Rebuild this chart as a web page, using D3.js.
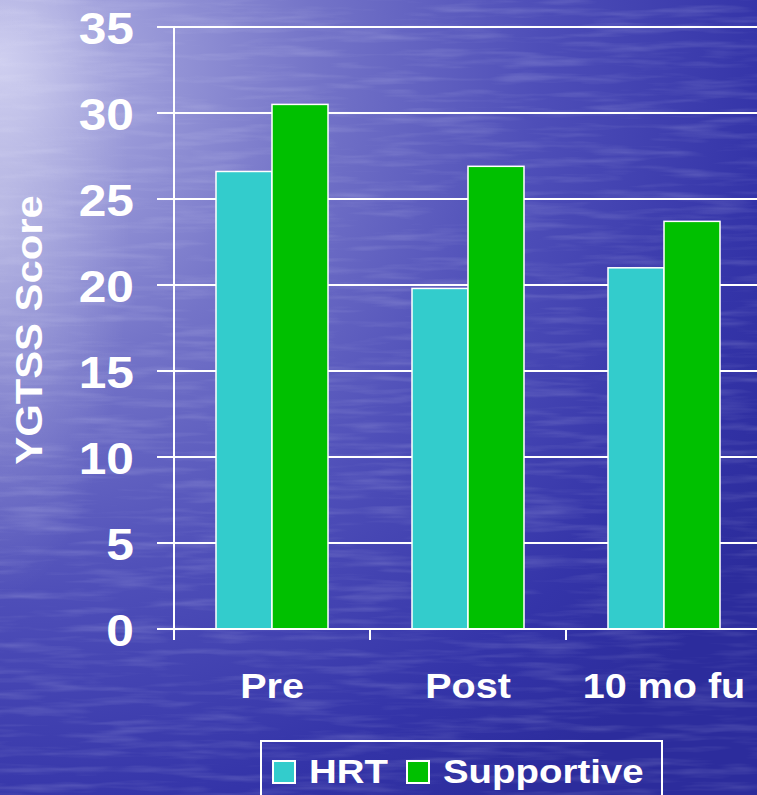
<!DOCTYPE html>
<html>
<head>
<meta charset="utf-8">
<script src="https://cdn.jsdelivr.net/npm/d3@7"></script>
<style>
  html, body { margin: 0; padding: 0; background: #3a3aa8; overflow: hidden; }
  svg { display: block; }
  text { font-family: "Liberation Sans", Arial, sans-serif; font-weight: bold; fill: #ffffff; }
</style>
</head>
<body>
<svg id="chart" width="757" height="795"></svg>
<script>
// YGTSS scores by assessment point
const categories = ["Pre", "Post", "10 mo fu"];
const series = ["HRT", "Supportive"];
const hrtValues = [26.6, 19.8, 21.0];
const supportiveValues = [30.5, 26.9, 23.7];
const yTicks = [0, 5, 10, 15, 20, 25, 30, 35];
const colors = { HRT: "#33cccc", Supportive: "#00c000" };

const W = 757, H = 795;
const svg = d3.select("#chart");
const defs = svg.append("defs");

// water-like backdrop: light at top-left, deep blue toward bottom-right
const bg = defs.append("radialGradient")
  .attr("id", "bgGrad").attr("gradientUnits", "userSpaceOnUse")
  .attr("cx", 0).attr("cy", 60).attr("r", 900);
[[0, "#c4c4ec"], [0.12, "#a2a2dc"], [0.35, "#7474c8"], [0.6, "#4e4eb8"], [0.85, "#3434a8"], [1, "#2c2c9c"]]
  .forEach(([o, c]) => bg.append("stop").attr("offset", o).attr("stop-color", c));

// soft pale band along the left edge
const edge = defs.append("radialGradient")
  .attr("id", "edgeGlow").attr("gradientUnits", "userSpaceOnUse")
  .attr("cx", 0).attr("cy", 0).attr("r", 1)
  .attr("gradientTransform", "translate(0,220) scale(130,380)");
edge.append("stop").attr("offset", 0).attr("stop-color", "#ffffff").attr("stop-opacity", 0.32);
edge.append("stop").attr("offset", 1).attr("stop-color", "#ffffff").attr("stop-opacity", 0);

const ripple = defs.append("filter").attr("id", "ripple")
  .attr("x", 0).attr("y", 0).attr("width", 1).attr("height", 1);
ripple.append("feTurbulence").attr("type", "fractalNoise")
  .attr("baseFrequency", "0.012 0.12").attr("numOctaves", 3).attr("seed", 7).attr("result", "n");
ripple.append("feColorMatrix").attr("in", "n").attr("type", "matrix")
  .attr("values", "0 0 0 0 0.85  0 0 0 0 0.85  0 0 0 0 1  0 0 0 2.2 -1.0");

svg.append("rect").attr("width", W).attr("height", H).attr("fill", "url(#bgGrad)");
svg.append("rect").attr("width", W).attr("height", H).attr("fill", "url(#edgeGlow)");
svg.append("rect").attr("width", W).attr("height", H).attr("filter", "url(#ripple)").attr("opacity", 0.16);

// scales
const plotLeft = 174, bandW = 196;
const x = d3.scaleBand().domain(categories).range([plotLeft, plotLeft + bandW * categories.length]);
const xInner = d3.scaleBand().domain(series).range([42, 154]);
const y = d3.scaleLinear().domain([0, 35]).range([629, 27]);

const stretch = 1.13;

// horizontal gridlines
svg.append("g").selectAll("line").data(yTicks).join("line")
  .attr("x1", 157).attr("x2", W)
  .attr("y1", d => y(d)).attr("y2", d => y(d))
  .attr("stroke", "#ffffff").attr("stroke-width", 2);

// y axis line and category ticks
svg.append("line").attr("x1", plotLeft).attr("x2", plotLeft)
  .attr("y1", y(35)).attr("y2", 640).attr("stroke", "#fff").attr("stroke-width", 2);
svg.append("g").selectAll("line").data(categories.slice(1).concat(["end"])).join("line")
  .attr("x1", (d, i) => plotLeft + bandW * (i + 1)).attr("x2", (d, i) => plotLeft + bandW * (i + 1))
  .attr("y1", y(0)).attr("y2", 640).attr("stroke", "#fff").attr("stroke-width", 2);

// bars
const rows = categories.map((c, i) => ({ cat: c, HRT: hrtValues[i], Supportive: supportiveValues[i] }));
const groups = svg.append("g").selectAll("g").data(rows).join("g")
  .attr("transform", d => `translate(${x(d.cat)},0)`);
groups.selectAll("rect").data(d => series.map(s => ({ s, v: d[s] }))).join("rect")
  .attr("x", d => xInner(d.s)).attr("width", xInner.bandwidth())
  .attr("y", d => y(d.v)).attr("height", d => y(0) - y(d.v))
  .attr("fill", d => colors[d.s]).attr("stroke", "#ffffff").attr("stroke-width", 1.5);

// baseline
svg.append("line").attr("x1", 157).attr("x2", W).attr("y1", y(0)).attr("y2", y(0))
  .attr("stroke", "#fff").attr("stroke-width", 2);

// tick labels
svg.append("g").selectAll("text").data(yTicks).join("text")
  .attr("transform", d => `translate(134,${y(d) + 2}) scale(${stretch},1)`)
  .attr("text-anchor", "end").attr("dominant-baseline", "central")
  .attr("font-size", 44).text(d => d);

// category labels
svg.append("g").selectAll("text").data(categories).join("text")
  .attr("transform", d => `translate(${x(d) + x.bandwidth() / 2},698) scale(${stretch},1)`)
  .attr("text-anchor", "middle").attr("font-size", 35).text(d => d);

// y axis title
svg.append("text")
  .attr("transform", `translate(42,330) rotate(-90) scale(${stretch},1)`)
  .attr("text-anchor", "middle").attr("font-size", 37).text("YGTSS Score");

// legend
const legend = svg.append("g");
legend.append("rect").attr("x", 261).attr("y", 741).attr("width", 401).attr("height", 80)
  .attr("fill", "none").attr("stroke", "#fff").attr("stroke-width", 2);
const legendItems = [{ s: "HRT", sx: 273, tx: 309 }, { s: "Supportive", sx: 407, tx: 443 }];
legend.selectAll("rect.sw").data(legendItems).join("rect").attr("class", "sw")
  .attr("x", d => d.sx).attr("y", 761).attr("width", 22).attr("height", 22)
  .attr("fill", d => colors[d.s]).attr("stroke", "#fff").attr("stroke-width", 2);
legend.selectAll("text").data(legendItems).join("text")
  .attr("transform", d => `translate(${d.tx},783) scale(${stretch},1)`)
  .attr("font-size", 34).text(d => d.s);
</script>
</body>
</html>
